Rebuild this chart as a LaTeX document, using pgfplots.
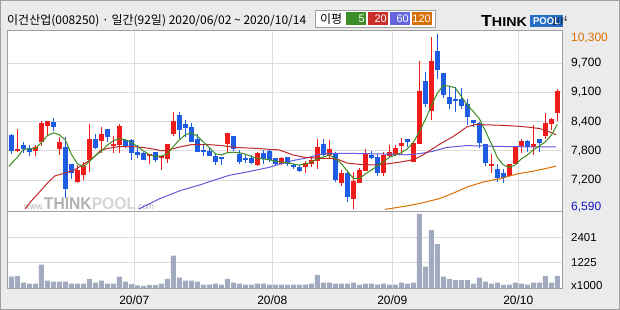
\documentclass[border=0pt]{standalone}
\usepackage{fontspec}
\setmainfont{Liberation Sans}
\newfontfamily\kr{Noto Sans CJK KR}
\usepackage{graphicx}
\usepackage{pgfplots}
\pgfplotsset{compat=1.18}
\usepackage{pgfplotstable}

\definecolor{bgc}{HTML}{EBEBEB}
\definecolor{framec}{HTML}{A0A0A0}
\definecolor{gridc}{HTML}{DCDCDC}
\definecolor{upc}{RGB}{240,28,28}
\definecolor{dnc}{RGB}{30,92,228}
\definecolor{volc}{RGB}{162,170,192}
\definecolor{ma5}{RGB}{60,140,30}
\definecolor{ma20}{RGB}{190,40,40}
\definecolor{ma60}{RGB}{100,90,220}
\definecolor{ma120}{RGB}{220,110,0}
\definecolor{lg5}{RGB}{60,140,40}
\definecolor{lg20}{RGB}{200,45,40}
\definecolor{lg60}{RGB}{100,100,220}
\definecolor{lg120}{RGB}{215,110,0}
\definecolor{logob}{RGB}{40,110,200}
\definecolor{lowc}{RGB}{20,20,200}

% up (red) candles: index, open, high, low, close
\pgfplotstableread{
i O H L C
1 7830 8300 7810 7870
4 7830 7950 7720 7920
5 8020 8470 7930 8420
6 8360 8470 8140 8470
8 7870 8120 7740 8020
11 7160 7530 7140 7420
12 7320 7600 7210 7510
13 7640 8400 7390 8080
15 8040 8330 7780 8190
17 7940 8140 7780 7980
18 7960 8400 7780 8360
23 7720 7760 7550 7760
25 7680 7720 7420 7720
26 7650 7970 7580 7970
27 8190 8660 8140 8460
36 7970 8200 7780 8200
41 7530 7800 7510 7780
45 7560 7700 7530 7680
49 7480 7620 7370 7580
50 7550 7720 7490 7630
51 7620 8090 7440 7920
53 7750 8060 7670 7870
55 7150 7420 7080 7360
57 6820 7390 6590 7200
58 7140 7460 7140 7420
59 7410 7860 7410 7770
62 7370 7800 7300 7750
63 7720 7950 7700 7800
64 7750 7950 7720 7880
65 7940 8110 7740 7990
67 7600 7990 7600 7990
68 7970 9730 7970 9100
70 8680 10230 8480 9730
80 7510 7760 7370 7540
83 7300 7560 7300 7540
84 7540 7930 7540 7930
85 7940 8090 7780 8040
87 7900 8380 7750 7970
89 8150 8620 8090 8410
90 8400 8520 8270 8500
91 8640 9130 8470 9100
}\upt

% down (blue) candles
\pgfplotstableread{
i O H L C
0 8160 8180 7760 7830
2 7950 8020 7790 7860
3 7880 7950 7720 7810
7 8440 8520 8240 8330
9 7910 8120 6840 7030
10 7560 7560 7230 7370
14 8090 8180 7870 7880
16 8290 8290 8010 8130
19 8060 8090 7880 7920
20 8060 8090 7640 7780
21 7800 7950 7670 7740
22 7780 7810 7640 7640
24 7800 7800 7590 7640
28 8590 8660 8070 8270
29 8400 8480 8130 8310
30 8330 8410 8020 8020
31 8080 8190 7810 7810
32 7850 7950 7720 7800
33 7830 7880 7720 7720
34 7720 7780 7530 7600
35 7700 7700 7530 7660
37 8140 8140 7830 7860
38 7760 7850 7560 7600
39 7680 7740 7580 7640
40 7680 7740 7560 7580
42 7780 7850 7560 7660
43 7830 7860 7600 7640
44 7680 7680 7510 7560
46 7700 7700 7510 7540
47 7520 7560 7450 7480
48 7490 7530 7390 7410
52 7970 8090 7720 7740
54 7780 7800 7160 7210
56 7370 7410 6750 6860
60 7750 7830 7650 7680
61 7700 7760 7300 7370
66 8070 8070 7900 8020
69 9310 9500 8760 8830
71 9940 10300 9360 9550
72 9480 9480 8940 9010
73 8960 9200 8710 8830
74 8920 9190 8660 8880
75 8920 9150 8710 8780
76 8820 8920 8380 8540
77 8480 8480 8340 8410
78 8410 8430 7880 7990
79 7970 7970 7510 7580
81 7440 7560 7180 7250
82 7350 7440 7140 7250
86 8040 8060 7810 7920
88 8090 8090 7810 8000
}\dnt

\pgfplotstableread{
i V
0 550
1 590
2 265
3 220
4 220
5 1110
6 360
7 310
8 310
9 310
10 220
11 220
12 220
13 440
14 265
15 360
16 220
17 220
18 550
19 310
20 200
21 140
22 110
23 155
24 155
25 220
26 440
27 1535
28 500
29 360
30 360
31 310
32 170
33 170
34 220
35 170
36 440
37 265
38 220
39 170
40 170
41 220
42 220
43 170
44 170
45 170
46 170
47 170
48 170
49 170
50 220
51 625
52 265
53 265
54 220
55 220
56 220
57 265
58 170
59 220
60 220
61 170
62 220
63 170
64 170
65 265
66 220
67 265
68 3500
69 1020
70 2740
71 2080
72 550
73 440
74 390
75 390
76 390
77 220
78 500
79 310
80 220
81 265
82 170
83 170
84 265
85 220
86 170
87 265
88 265
89 590
90 265
91 590
}\volt

\pgfplotsset{chartbase/.style={
  scale only axis, width=554.6pt, xmin=-0.6, xmax=91.83,
  axis line style={draw=framec, line width=1pt},
  tick style={draw=none},
  grid style={draw=gridc, line width=1pt},
  xmajorgrids, ymajorgrids,
  xtick={20.5,43.5,63.5,84.5},
  yticklabel pos=right,
  tick label style={font=\fontsize{12}{12}\selectfont},
  yticklabel style={anchor=west, inner sep=0pt, xshift=8.7pt},
  /pgf/number format/assume math mode=true,
}}

\begin{document}
\begin{tikzpicture}[x=1pt,y=1pt]
\fill[bgc] (0,0) rectangle (620,310);
\draw[framec, line width=1.2pt] (0.6,0.6) rectangle (619.4,309.4);
\fill[white] (7.7,98.5) rectangle (562.3,279);
\fill[white] (7.7,21.7) rectangle (562.3,98.5);
% watermark
\node[anchor=base west, inner sep=0pt] at (24,100.8) {\scalebox{0.92}[1]{{\fontsize{9}{9}\selectfont\color{gray!60}www.}{\fontsize{17}{17}\selectfont\bfseries\color{gray!60}THINK\color{gray!32}POOL}{\fontsize{9}{9}\selectfont\color{gray!60}.com}}};

% title
\node[anchor=west, inner sep=0pt] at (7,289) {\kr\fontsize{12}{12}\selectfont 이건산업(008250) · 일간(92일) 2020/06/02 \textasciitilde{} 2020/10/14};
% MA legend
\draw[framec, fill=white] (315,283) rectangle (435,299.5);
\node[anchor=west, inner sep=0pt] at (320,291.2) {\kr\fontsize{12}{12}\selectfont 이평};
\fill[lg5] (346,285) rectangle (366,297.5);
\fill[lg20] (368,285) rectangle (388,297.5);
\fill[lg60] (390,285) rectangle (410,297.5);
\fill[lg120] (412,285) rectangle (432,297.5);
\node[anchor=east, inner sep=0pt, text=white] at (365,291.2) {\fontsize{11}{11}\selectfont 5};
\node[anchor=east, inner sep=0pt, text=white] at (387,291.2) {\fontsize{11}{11}\selectfont 20};
\node[anchor=east, inner sep=0pt, text=white] at (409,291.2) {\fontsize{11}{11}\selectfont 60};
\node[anchor=east, inner sep=0pt, text=white] at (431,291.2) {\fontsize{11}{11}\selectfont 120};
% logo
\node[anchor=base west, inner sep=0pt] at (481,283) {\scalebox{1.1}[1]{\bfseries\fontsize{16}{16}\selectfont T\fontsize{13}{13}\selectfont HINK}};
\fill[logob] (530,282.5) rectangle (563,295);
\node[anchor=center, inner sep=0pt, text=white] at (546.5,288.7) {\scalebox{0.95}[1]{\bfseries\fontsize{10}{10}\selectfont POOL}};

\begin{axis}[chartbase, at={(7.7pt,98.5pt)}, anchor=south west,
  height=180.5pt, ymin=6545, ymax=10366,
  ytick={9682,9064,8445,7827,7208},
  yticklabels={{9,700},{9,100},{8,400},{7,800},{7,200}},
  extra y ticks={10220,6640},
  extra y tick labels={{\textcolor{ma120}{10,300}},{\textcolor{lowc}{6,590}}},
  extra y tick style={grid=none},
  xticklabels={}]
\addplot[upc, line width=1pt, quiver={u=0, v=\thisrow{H}-\thisrow{L}}] table[x=i, y=L] {\upt};
\addplot[upc, line width=4.6pt, quiver={u=0, v=\thisrow{C}-\thisrow{O}}] table[x=i, y=O] {\upt};
\addplot[dnc, line width=1pt, quiver={u=0, v=\thisrow{H}-\thisrow{L}}] table[x=i, y=L] {\dnt};
\addplot[dnc, line width=4.6pt, quiver={u=0, v=\thisrow{C}-\thisrow{O}}] table[x=i, y=O] {\dnt};
% MA120
\addplot[ma120, line width=1pt] coordinates {(62.3,6590) (65.8,6660) (68.6,6730) (71.4,6820) (73.6,6930) (76.1,7070) (78.8,7175) (81.5,7240) (84.3,7340) (87,7400) (88.9,7450) (90.8,7505)};
% MA60
\addplot[ma60, line width=1pt] coordinates {(21.2,6595) (24.8,6820) (28.1,6985) (31.5,7110) (33,7175) (36.3,7310) (39.6,7390) (43,7480) (45,7560) (47.2,7630) (49.4,7684) (51.6,7760) (53.3,7776) (56,7776) (60.8,7765) (63,7760) (65.8,7745) (68.1,7770) (70.3,7820) (72.5,7900) (75.9,7940) (79,7930) (82.3,7920) (85.6,7915) (90.8,7915)};
% MA20
\addplot[ma20, line width=1pt] coordinates {(2.3,6600) (3,6720) (4.5,6930) (6.2,7170) (7.3,7300) (8.7,7350) (10.3,7410) (11.5,7500) (12.8,7610) (13.9,7710) (14.8,7830) (16,7880) (18,7920) (20,7920) (22,7900) (24,7860) (25,7830) (26,7840) (28,7910) (30,7960) (33,7960) (35,7940) (37.5,7900) (41,7880) (43,7860) (44.6,7850) (45.5,7810) (47,7740) (49,7690) (51.5,7670) (53.3,7670) (54.7,7635) (56,7570) (58.3,7540) (60.8,7530) (62.5,7550) (64.7,7590) (67,7640) (68.6,7740) (70.3,7880) (71.4,7970) (73.6,8130) (76,8340) (77.6,8390) (79,8380) (81.5,8370) (84.5,8350) (86.2,8330) (88.1,8300) (89.5,8240) (90.8,8170)};
% MA5
\addplot[ma5, line width=1pt] coordinates {(-0.4,7500) (0,7560) (1,7690) (2,7860) (3,7870) (4,7880) (5,8000) (6,8150) (7,8210) (8,8170) (9,8060) (10,7760) (11,7560) (12,7490) (13,7600) (14,7730) (15,7820) (16,7950) (17,8040) (18,8090) (19,8060) (20,8010) (21,7920) (22,7830) (23,7750) (24,7710) (25,7720) (26,7760) (27,7920) (28,8060) (29,8170) (30,8210) (31,8140) (32,8020) (33,7900) (34,7770) (35,7740) (36,7790) (37,7800) (38,7790) (39,7760) (40,7710) (41,7670) (42,7660) (43,7640) (44,7610) (45,7590) (46,7580) (47,7550) (48,7530) (49,7550) (50,7590) (51,7660) (52,7700) (53,7740) (54,7670) (55,7560) (56,7400) (57,7250) (58,7240) (59,7340) (60,7420) (61,7510) (62,7600) (63,7690) (64,7740) (65,7790) (66,7870) (67,8010) (68,8230) (69,8490) (70,8780) (71,9050) (72,9210) (73,9200) (74,9160) (75,8980) (76,8800) (77,8660) (78,8510) (79,8250) (80,7980) (81,7690) (82,7530) (83,7480) (84,7530) (85,7660) (86,7740) (87,7850) (88,7930) (89,8020) (90,8160) (91,8390)};
\end{axis}

\begin{axis}[chartbase, at={(7.7pt,21.7pt)}, anchor=south west,
  height=76.8pt, ymin=0, ymax=3613,
  ytick={1225,2401}, yticklabels={1225,2401},
  extra y ticks={108}, extra y tick labels={x1000},
  extra y tick style={grid=none},
  yticklabel style={font=\fontsize{11.5}{11.5}\selectfont},
  xticklabels={20/07,20/08,20/09,20/10},
  xticklabel style={anchor=center, yshift=-11.7pt}]
\addplot[ybar, bar width=5pt, fill=volc, draw=none] table[x=i, y=V] {\volt};
\end{axis}
\end{tikzpicture}
\end{document}
